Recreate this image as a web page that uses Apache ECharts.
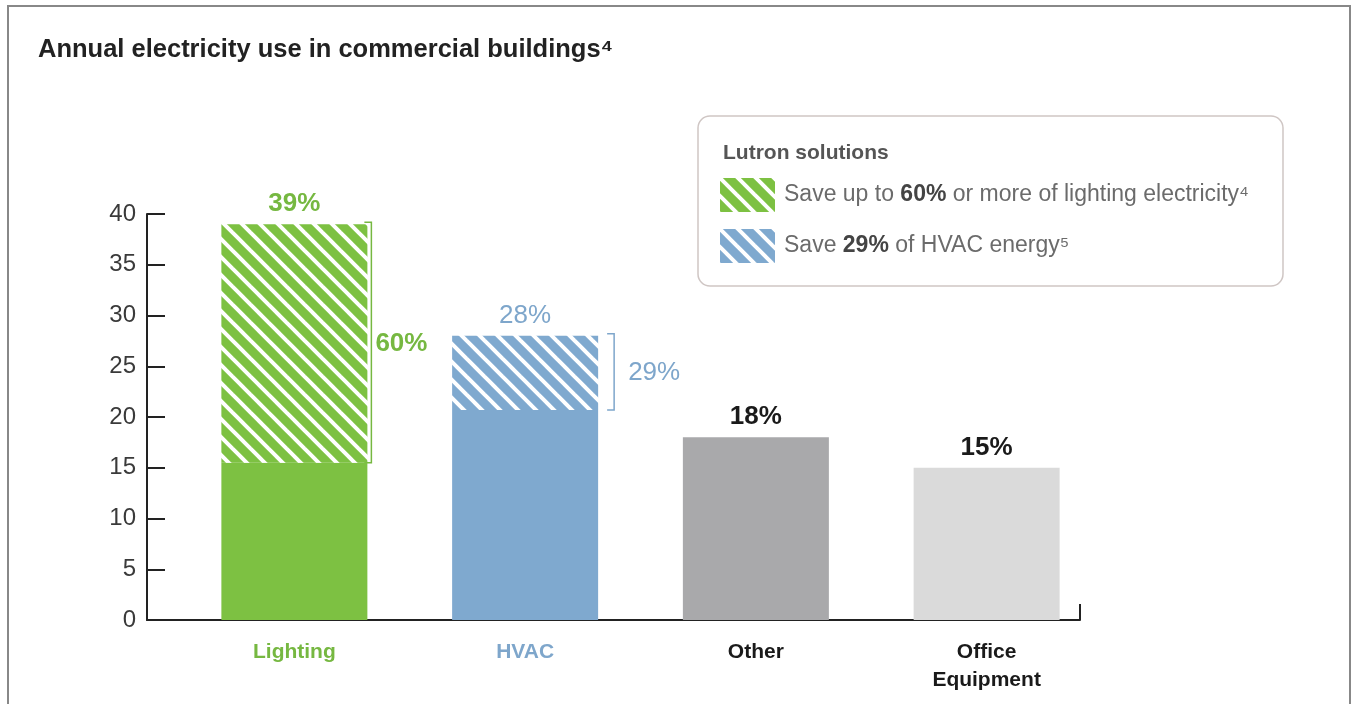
<!DOCTYPE html>
<html>
<head>
<meta charset="utf-8">
<script src="https://cdn.jsdelivr.net/npm/echarts@6/dist/echarts.min.js"></script>
<style>
  html, body { margin: 0; padding: 0; background: #fff; }
  #chart { width: 1351px; height: 704px; }
</style>
</head>
<body>
<div id="chart"></div>
<script>
// values
const categories = ['Lighting', 'HVAC', 'Other', 'Office\nEquipment'];
const shares = [39, 28, 18, 15];            // share of electricity use, %
const baseValues = [15.5, 20.7, 18, 15];    // part that stays
const savingValues = [23.5, 7.3, 0, 0];     // part Lutron can save
const savingPct = [60, 29, 0, 0];
const savingNames = ['Lighting savings', 'HVAC savings'];

const GREEN = '#7dc142';
const BLUE = '#7fa9cf';
const barColors = [GREEN, BLUE, '#a9a9ab', '#dadada'];
const labelColors = ['#76b841', '#7ea6cb', '#1a1a1a', '#1a1a1a'];
const FONT = '"Liberation Sans", Arial, sans-serif';

// diagonal white stripes over a colour, tile repeats seamlessly
function hatch(color) {
  const s = 18;
  const c = document.createElement('canvas');
  c.width = s; c.height = s;
  const ctx = c.getContext('2d');
  ctx.fillStyle = color;
  ctx.fillRect(0, 0, s, s);
  ctx.strokeStyle = '#fff';
  ctx.lineWidth = 4;
  ctx.lineCap = 'square';
  [-s, 0, s].forEach(k => {
    ctx.beginPath();
    ctx.moveTo(k - 4, -4);
    ctx.lineTo(k + s + 4, s + 4);
    ctx.stroke();
  });
  return { image: c, repeat: 'repeat' };
}

const BAR_W = 146;
const chart = echarts.init(document.getElementById('chart'));

function topLabel(i) {
  return {
    show: true,
    position: 'top',
    distance: 7,
    formatter: shares[i] + '%',
    color: labelColors[i],
    fontSize: 26,
    fontWeight: i === 1 ? 'normal' : 'bold',
    fontFamily: FONT
  };
}

const baseData = baseValues.map((v, i) => ({
  value: v,
  itemStyle: { color: barColors[i] },
  label: savingValues[i] > 0 ? { show: false } : topLabel(i)
}));

function savingData(idx) {
  return savingValues.map((v, i) => i === idx && v > 0
    ? { value: v, label: topLabel(i) }
    : '-');
}

const bracketData = [];
savingValues.forEach((v, i) => {
  if (v > 0) bracketData.push([i, baseValues[i], baseValues[i] + v, savingPct[i]]);
});
const bracketLook = [
  { gap: 4, textGap: 4, bold: true },
  { gap: 16, textGap: 14, bold: false }
];

const option = {
  backgroundColor: '#fff',
  animation: false,
  title: [
    {
      text: 'Annual electricity use in commercial buildings⁴',
      left: 33, top: 32,
      textStyle: { fontSize: 25.5, fontWeight: 'bold', color: '#222', fontFamily: FONT }
    },
    {
      text: 'Lutron solutions',
      left: 718, top: 138,
      textStyle: { fontSize: 21, fontWeight: 'bold', color: '#555', fontFamily: FONT }
    }
  ],
  legend: {
    data: savingNames,
    orient: 'vertical',
    left: 698, top: 116,
    padding: [62, 34, 23, 22],
    itemWidth: 55, itemHeight: 34, itemGap: 17,
    icon: 'rect',
    selectedMode: false,
    borderColor: '#cfc6c4', borderWidth: 1.5, borderRadius: 12,
    textStyle: {
      fontSize: 23, color: '#6b6b6b', fontFamily: FONT, padding: [0, 0, 0, 4],
      rich: {
        n: { fontSize: 23, color: '#6b6b6b', fontFamily: FONT },
        b: { fontSize: 23, color: '#444', fontWeight: 'bold', fontFamily: FONT }
      }
    },
    formatter: name => name === savingNames[0]
      ? '{n|Save up to }{b|' + savingPct[0] + '%}{n| or more of lighting electricity⁴}'
      : '{n|Save }{b|' + savingPct[1] + '%}{n| of HVAC energy⁵}'
  },
  grid: [
    { left: 147, right: 271, top: 214, bottom: 84 },
    { left: 179, right: 249, top: 214, bottom: 84 }
  ],
  xAxis: [
    {
      gridIndex: 0, type: 'value', min: 0, max: 1, interval: 1,
      axisLine: { show: true, lineStyle: { color: '#222', width: 2 } },
      axisTick: { show: true, inside: true, length: 16, lineStyle: { color: '#222', width: 2 } },
      axisLabel: { show: false },
      splitLine: { show: false }
    },
    {
      gridIndex: 1, type: 'category', data: categories,
      axisLine: { show: false },
      axisTick: { show: false },
      axisLabel: {
        margin: 18, fontSize: 21, fontWeight: 'bold', lineHeight: 28, fontFamily: FONT,
        color: (v, i) => labelColors[i]
      }
    }
  ],
  yAxis: [
    {
      gridIndex: 0, type: 'value', min: 0, max: 40, interval: 5,
      axisLine: { show: true, lineStyle: { color: '#222', width: 2 } },
      axisTick: { show: true, inside: true, length: 18, lineStyle: { color: '#222', width: 2 } },
      axisLabel: { fontSize: 24, color: '#3a3a3a', margin: 11, fontFamily: FONT },
      splitLine: { show: false }
    },
    { gridIndex: 1, type: 'value', min: 0, max: 40, show: false }
  ],
  series: [
    {
      name: 'Use', type: 'bar', stack: 'total', xAxisIndex: 1, yAxisIndex: 1,
      barWidth: BAR_W, data: baseData
    },
    {
      name: savingNames[0], type: 'bar', stack: 'total', xAxisIndex: 1, yAxisIndex: 1,
      barWidth: BAR_W, itemStyle: { color: hatch(GREEN) }, data: savingData(0)
    },
    {
      name: savingNames[1], type: 'bar', stack: 'total', xAxisIndex: 1, yAxisIndex: 1,
      barWidth: BAR_W, itemStyle: { color: hatch(BLUE) }, data: savingData(1)
    },
    {
      name: 'brackets', type: 'custom', xAxisIndex: 1, yAxisIndex: 1,
      data: bracketData,
      renderItem: (params, api) => {
        const i = api.value(0);
        const look = bracketLook[params.dataIndex];
        const top = api.coord([i, api.value(2)]);
        const bot = api.coord([i, api.value(1)]);
        const x = top[0] + BAR_W / 2 + look.gap;
        const col = labelColors[i];
        return {
          type: 'group',
          children: [
            {
              type: 'polyline',
              shape: { points: [[x - 7, top[1] - 2], [x, top[1] - 2], [x, bot[1]], [x - 7, bot[1]]] },
              style: { stroke: col, lineWidth: 1.5, fill: null }
            },
            {
              type: 'text',
              style: {
                x: x + look.textGap, y: (top[1] + bot[1]) / 2,
                text: api.value(3) + '%',
                fill: col, font: (look.bold ? 'bold ' : '') + '26px ' + FONT,
                verticalAlign: 'middle', align: 'left'
              }
            }
          ]
        };
      }
    }
  ],
  graphic: [
    {
      type: 'rect', silent: true,
      shape: { x: 8, y: 6, width: 1342, height: 720 },
      style: { fill: null, stroke: '#888', lineWidth: 2 }
    }
  ]
};

chart.setOption(option);
</script>
</body>
</html>
